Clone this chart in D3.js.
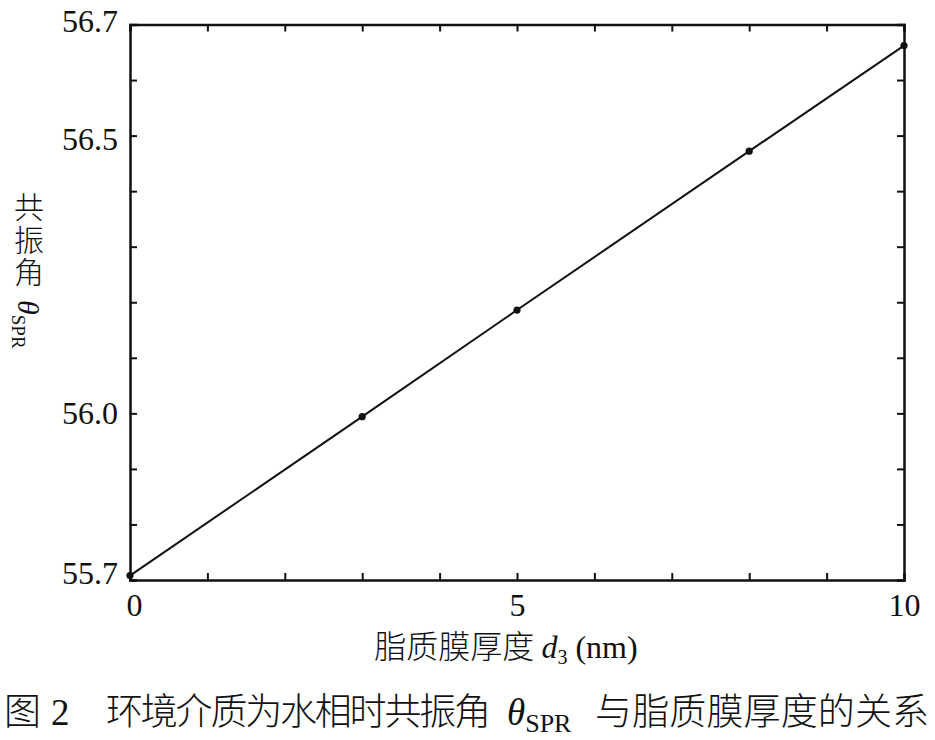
<!DOCTYPE html>
<html><head><meta charset="utf-8">
<script src="https://cdn.jsdelivr.net/npm/d3@7"></script>
<style>body{margin:0;background:#fff}svg{display:block}</style>
</head><body>
<svg id="c" width="935" height="740"></svg>
<script>
// data
const thickness = [0, 3, 5, 8, 10];            // d3 (nm)
const resonanceAngle = [55.708, 55.994, 56.186, 56.472, 56.662]; // θSPR
const xTicks = [0,1,2,3,4,5,6,7,8,9,10];
const xTickLabels = [0, 5, 10];
const yTicks = [55.7,55.8,55.9,56.0,56.1,56.2,56.3,56.4,56.5,56.6,56.7];
const yTickLabels = ["55.7","56.0","56.5","56.7"];

const svg = d3.select("#c");
const L = 130, R = 904, T = 24.5, B = 580;
const x = d3.scaleLinear().domain([0, 10]).range([L, R]);
const y = d3.scaleLinear().domain([55.7, 56.7]).range([B, T]);
const serif = "'Liberation Serif', 'Times New Roman', serif";
const cjk = "'Noto Sans CJK SC', 'Noto Sans CJK JP', sans-serif";

const fmtX = d => xTickLabels.includes(d) ? String(d) : "";
const fmtY = d => { const s = d.toFixed(1); return yTickLabels.includes(s) ? s : ""; };

const gB = svg.append("g").attr("transform", `translate(0,${B})`)
  .call(d3.axisBottom(x).tickValues(xTicks).tickSize(-7).tickPadding(13).tickFormat(fmtX));
const gT = svg.append("g").attr("transform", `translate(0,${T})`)
  .call(d3.axisTop(x).tickValues(xTicks).tickSize(-7).tickFormat(""));
const gL = svg.append("g").attr("transform", `translate(${L},0)`)
  .call(d3.axisLeft(y).tickValues(yTicks).tickSize(-7).tickPadding(12).tickFormat(fmtY));
const gR = svg.append("g").attr("transform", `translate(${R},0)`)
  .call(d3.axisRight(y).tickValues(yTicks).tickSize(-7).tickFormat(""));

[gB, gT, gL, gR].forEach(g => {
  g.attr("font-family", null).attr("font-size", null);
  g.select(".domain").attr("stroke", "#111").attr("stroke-width", 2.5);
  g.selectAll(".tick line").attr("stroke", "#111").attr("stroke-width", 2);
  g.selectAll("text").attr("fill", "#111").style("font-family", serif).style("font-size", "32px");
});
gL.selectAll(".tick text").attr("dy", d => {
  const s = d.toFixed(1);
  if (s === "55.7") return "0.12em";
  if (s === "56.7") return "0.22em";
  if (s === "56.5") return "0.42em";
  return "0.32em";
});
gB.selectAll(".tick text").attr("dy", "0.71em").attr("dx", d => d === 0 ? 4 : 0);

// line + points
const pts = thickness.map((d, i) => [d, resonanceAngle[i]]);
svg.append("path").datum(pts)
  .attr("fill", "none").attr("stroke", "#111").attr("stroke-width", 2)
  .attr("d", d3.line().x(d => x(d[0])).y(d => y(d[1])));
svg.selectAll("circle.pt").data(pts).join("circle").attr("class", "pt")
  .attr("cx", d => x(d[0])).attr("cy", d => y(d[1])).attr("r", 3.6).attr("fill", "#111");

// x axis label
const xl = svg.append("text").attr("x", 506).attr("y", 658).attr("text-anchor", "middle")
  .attr("fill", "#111").style("font-size", "32px");
xl.append("tspan").style("font-family", cjk).attr("font-weight", 300).text("脂质膜厚度 ");
xl.append("tspan").style("font-family", serif).attr("font-style", "italic").text("d");
xl.append("tspan").style("font-family", serif).style("font-size", "20px").attr("dy", 6).text("3");
xl.append("tspan").style("font-family", serif).attr("dy", -6).text(" (nm)");

// y axis label: vertical text, CJK upright, Latin rotated
svg.append("text").attr("x", 29).attr("y", 192)
  .style("writing-mode", "vertical-rl").style("letter-spacing", "2.5px")
  .style("font-family", cjk).attr("font-weight", 300).style("font-size", "30px").attr("fill", "#111")
  .text("共振角");
const yl = svg.append("text").attr("transform", "translate(18,300) rotate(90)")
  .attr("fill", "#111").style("font-family", serif).style("font-size", "30px");
yl.append("tspan").attr("font-style", "italic").text("θ");
yl.append("tspan").style("font-size", "19px").attr("dy", 6).text("SPR");

// caption
const cap = svg.append("text").attr("y", 725).attr("fill", "#111").style("font-size", "37px");
cap.append("tspan").attr("x", 4).style("font-family", cjk).attr("font-weight", 300).text("图");
cap.append("tspan").attr("x", 51).style("font-family", serif).text("2");
cap.append("tspan").attr("x", 106).style("font-family", cjk).attr("font-weight", 300)
  .attr("textLength", 385).attr("lengthAdjust", "spacing").text("环境介质为水相时共振角");
cap.append("tspan").attr("x", 507).style("font-family", serif).attr("font-style", "italic").text("θ");
cap.append("tspan").style("font-family", serif).style("font-size", "26px").attr("dy", 7).text("SPR");
cap.append("tspan").attr("x", 595).attr("dy", -7).style("font-family", cjk).attr("font-weight", 300)
  .attr("textLength", 334).attr("lengthAdjust", "spacing").text("与脂质膜厚度的关系");
</script>
</body></html>
